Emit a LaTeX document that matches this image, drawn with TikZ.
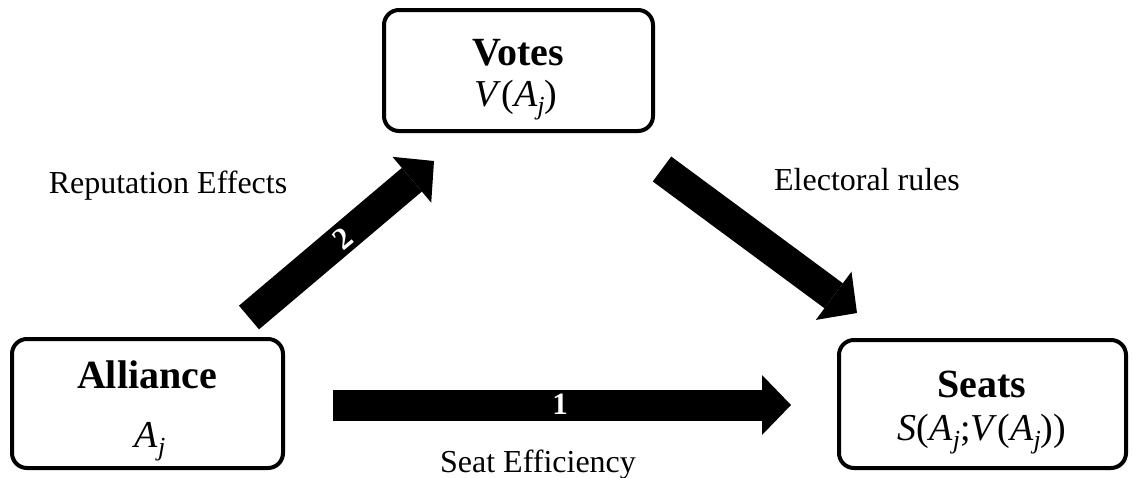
\documentclass[tikz,border=0pt]{standalone}
\usepackage{fontspec}
\setmainfont{Liberation Serif}
\usetikzlibrary{arrows.meta,calc}
\newcommand\jsub{\raisebox{-8pt}{\fontsize{26}{26}\selectfont\itshape j}}
\tikzset{
  box/.style={draw, line width=4pt, rounded corners=15pt, inner sep=0pt},
  title/.style={anchor=base, inner sep=0pt, font=\fontsize{40}{44}\selectfont\bfseries},
  formula/.style={anchor=base, inner sep=0pt, font=\fontsize{38}{42}\selectfont},
  lbl/.style={anchor=base, inner sep=0pt, font=\fontsize{32}{36}\selectfont},
  num/.style={inner sep=0pt, text=white, font=\fontsize{31}{34}\selectfont\bfseries},
  blockarrow/.style={line width=31pt, -{Triangle[length=29pt,width=60pt,line width=0pt]}}
}
\begin{document}
\begin{tikzpicture}[x=1pt,y=-1pt]
\useasboundingbox (0,0) rectangle (1133,477);
% boxes
\node[box, minimum width=269pt, minimum height=121pt] (votes) at (518.5,70.5) {};
\node[box, minimum width=271pt, minimum height=129pt] (alli) at (147.5,403.5) {};
\node[box, minimum width=287pt, minimum height=128pt] (seats) at (982.5,404) {};
% box texts
\node[title] (tv) at (518,65) {Votes};
\node[formula] (fv) at (516,106) {\textit{V}(\textit{A}\jsub)};
\node[title] (ta) at (147,388) {Alliance};
\node[formula] (fa) at (150,447) {\textit{A}\jsub};
\node[title] (ts) at (982,397) {Seats};
\node[formula] (fs) at (982,440) {\textit{S}(\textit{A}\jsub;\textit{V}(\textit{A}\jsub))};
% arrows
\coordinate (a1s) at ($(alli.east)+(48,1.5)$);
\coordinate (a1e) at ($(seats.west)+(-46,1)$);
\coordinate (a2s) at ($(alli.north east)+(-36,-19.5)$);
\coordinate (a2e) at ($(votes.south west)+(52,28)$);
\coordinate (a3s) at ($(votes.south east)+(7,36)$);
\coordinate (a3e) at ($(seats.north west)+(20,-25)$);
\draw[blockarrow] (a1s) -- (a1e);
\draw[blockarrow] (a2s) -- (a2e);
\draw[blockarrow] (a3s) -- (a3e);
\node[num] (n1) at (560,404) {1};
\node[num, rotate=40] (n2) at (343,239) {2};
% labels
\node[lbl] (lrep) at (168,193) {Reputation Effects};
\node[lbl] (lele) at (867,190) {Electoral rules};
\node[lbl] (lsea) at (538,472) {Seat Efficiency};
\end{tikzpicture}
\end{document}
